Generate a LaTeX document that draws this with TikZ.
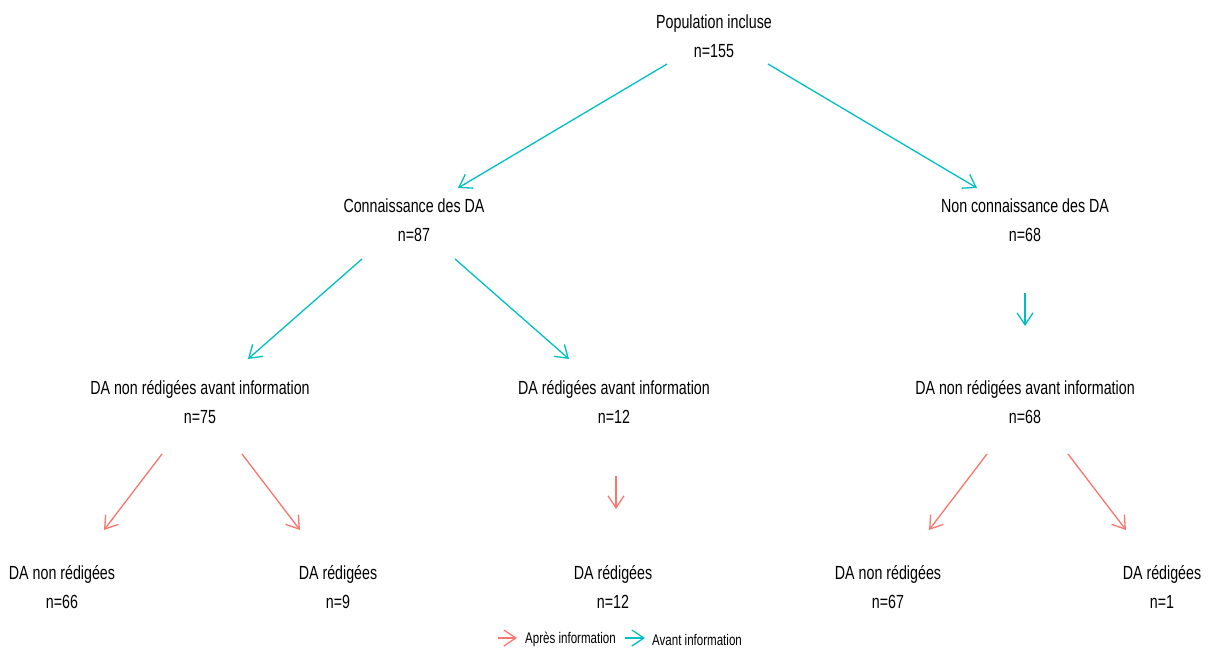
\documentclass[tikz,border=0pt]{standalone}
\usepackage{fontspec}
\setmainfont{Liberation Sans}[FakeStretch=0.75]
\usetikzlibrary{arrows.meta}
\definecolor{apres}{HTML}{F8766D}
\definecolor{avant}{HTML}{00BFC4}
\tikzset{
  lbl/.style={align=center, inner sep=0pt, font=\fontsize{19}{29}\selectfont},
  leg/.style={anchor=west, inner sep=0pt, font=\fontsize{15.4}{18}\selectfont},
  arr/.style={line width=1.3pt, -{Straight Barb[length=12pt,width=16pt,line width=1.3pt]}},
  av/.style={arr, avant},
  ap/.style={arr, apres}
}
\begin{document}
\begin{tikzpicture}[x=1pt,y=-1pt]
\useasboundingbox (0,0) rectangle (1211,648);
% nodes
\node[lbl] (pop) at (714,36) {Population incluse\\n=155};
\node[lbl] (con) at (414,220) {Connaissance des DA\\n=87};
\node[lbl] (ncon) at (1025,220) {Non connaissance des DA\\n=68};
\node[lbl] (nra) at (200,402) {DA non rédigées avant information\\n=75};
\node[lbl] (ra) at (614,402) {DA rédigées avant information\\n=12};
\node[lbl] (nrb) at (1025,402) {DA non rédigées avant information\\n=68};
\node[lbl] (b1) at (62,587) {DA non rédigées\\n=66};
\node[lbl] (b2) at (338,587) {DA rédigées\\n=9};
\node[lbl] (b3) at (613,587) {DA rédigées\\n=12};
\node[lbl] (b4) at (888,587) {DA non rédigées\\n=67};
\node[lbl] (b5) at (1162,587) {DA rédigées\\n=1};
% arrow end points
\coordinate (s1) at (667,64);  \coordinate (e1) at (458,188);
\coordinate (s2) at (768,64);  \coordinate (e2) at (977,188);
\coordinate (s3) at (362,259); \coordinate (e3) at (248,359);
\coordinate (s4) at (455,259); \coordinate (e4) at (569,359);
\coordinate (s5) at (1025,293); \coordinate (e5) at (1025,326);
\coordinate (s6) at (162,454); \coordinate (e6) at (104,530);
\coordinate (s7) at (242,454); \coordinate (e7) at (300,530);
\coordinate (s8) at (616,476); \coordinate (e8) at (616,509);
\coordinate (s9) at (987,454); \coordinate (e9) at (929,530);
\coordinate (s10) at (1068,454); \coordinate (e10) at (1126,530);
\draw[av] (s1) -- (e1);
\draw[av] (s2) -- (e2);
\draw[av] (s3) -- (e3);
\draw[av] (s4) -- (e4);
\draw[av] (s5) -- (e5);
\draw[ap] (s6) -- (e6);
\draw[ap] (s7) -- (e7);
\draw[ap] (s8) -- (e8);
\draw[ap] (s9) -- (e9);
\draw[ap] (s10) -- (e10);
% legend
\coordinate (l1s) at (498,638); \coordinate (l1e) at (517,638);
\coordinate (l2s) at (625,638); \coordinate (l2e) at (645,638);
\draw[ap] (l1s) -- (l1e);
\draw[av] (l2s) -- (l2e);
\node[leg] (lt1) at (525,639.5) {Après information};
\node[leg] (lt2) at (652,639.5) {Avant information};
\end{tikzpicture}
\end{document}
